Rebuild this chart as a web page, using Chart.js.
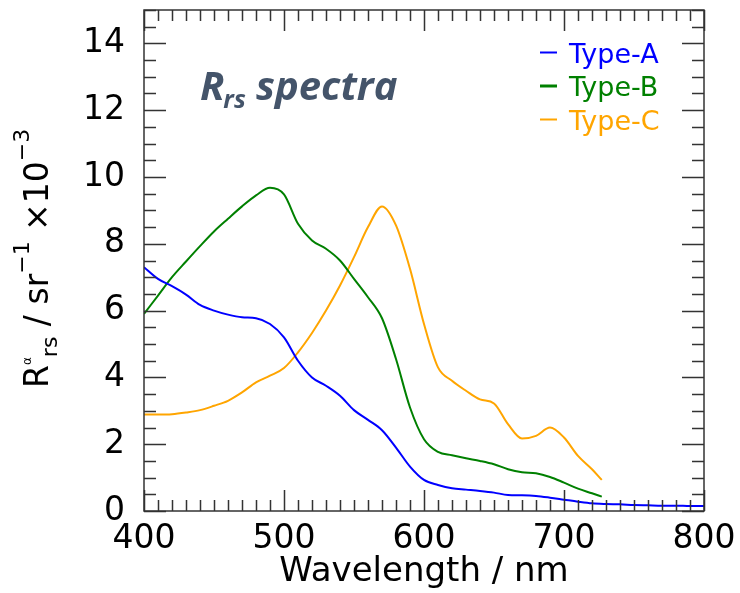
<!DOCTYPE html>
<html>
<head>
<meta charset="utf-8">
<script src="https://cdn.jsdelivr.net/npm/chart.js@4"></script>
<style>
html, body { margin: 0; padding: 0; background: #fff; }
#wrap { width: 740px; height: 593px; position: relative; }
</style>
</head>
<body>
<div id="wrap"><canvas id="spectra"></canvas></div>
<script>
// wavelength grids (nm)
var wavelengths = [400, 410, 420, 430, 440, 450, 460, 470, 480, 490,
                   500, 510, 520, 530, 540, 550, 560, 570, 580, 590,
                   600, 610, 620, 630, 640, 650, 660, 670, 680, 690,
                   700, 710, 720, 730, 740, 750, 760, 770, 780, 790, 800];
var wavelengthsBC = [400, 410, 420, 430, 440, 450, 460, 470, 480, 490,
                     500, 510, 520, 530, 540, 550, 560, 570, 580, 590,
                     600, 610, 620, 630, 640, 650, 660, 670, 680, 690,
                     700, 710, 720, 727];

// Rrs x 10^-3 sr^-1
var typeA = [7.30, 6.95, 6.73, 6.48, 6.17, 6.00, 5.88, 5.80, 5.77, 5.60,
             5.20, 4.50, 4.00, 3.75, 3.45, 3.02, 2.73, 2.42, 1.90, 1.33,
             0.93, 0.78, 0.68, 0.64, 0.60, 0.55, 0.48, 0.47, 0.45, 0.40,
             0.34, 0.28, 0.23, 0.21, 0.20, 0.18, 0.17, 0.16, 0.16, 0.15, 0.15];
var typeB = [5.90, 6.45, 7.00, 7.47, 7.93, 8.37, 8.75, 9.12, 9.45, 9.68,
             9.48, 8.60, 8.10, 7.85, 7.50, 6.95, 6.40, 5.77, 4.55, 3.10,
             2.15, 1.77, 1.67, 1.58, 1.50, 1.40, 1.25, 1.16, 1.13, 1.02,
             0.85, 0.67, 0.53, 0.43];
var typeC = [2.89, 2.89, 2.90, 2.95, 3.02, 3.15, 3.30, 3.55, 3.85, 4.05,
             4.28, 4.75, 5.33, 6.00, 6.75, 7.60, 8.50, 9.12, 8.55, 7.25,
             5.60, 4.30, 3.90, 3.60, 3.34, 3.22, 2.60, 2.17, 2.25, 2.50,
             2.20, 1.65, 1.25, 0.93];

var seriesNames = ['Type-A', 'Type-B', 'Type-C'];
var seriesColors = ['#0000ff', '#008000', '#ffa500'];

function pairs(xs, ys) {
    return ys.map(function(v, i) { return { x: xs[i], y: v }; });
}

var FONT = "'DejaVu Sans', sans-serif";

// box round the plot with inward ticks on all four sides
var frameTicks = {
    id: 'frameTicks',
    afterDraw: function(chart) {
        var ctx = chart.ctx, ca = chart.chartArea;
        var xs = chart.scales.x, ys = chart.scales.y;
        ctx.save();
        ctx.strokeStyle = '#333';
        ctx.lineWidth = 1.5;
        ctx.beginPath();
        for (var w = xs.min; w <= xs.max; w += 10) {
            var px = Math.round(xs.getPixelForValue(w)) + 0.5;
            var len = (w % 100 === 0) ? 21 : 11;
            ctx.moveTo(px, ca.bottom); ctx.lineTo(px, ca.bottom - len);
            ctx.moveTo(px, ca.top); ctx.lineTo(px, ca.top + len);
        }
        for (var v = ys.min; v <= ys.max; v += 0.5) {
            var py = Math.round(ys.getPixelForValue(v)) + 0.5;
            var l2 = (v % 2 === 0) ? 22 : 12;
            ctx.moveTo(ca.left, py); ctx.lineTo(ca.left + l2, py);
            ctx.moveTo(ca.right, py); ctx.lineTo(ca.right - l2, py);
        }
        ctx.stroke();
        ctx.strokeRect(ca.left, ca.top, ca.right - ca.left, ca.bottom - ca.top);
        ctx.restore();
    }
};

// y title with sub/superscripts, rotated
var yTitle = {
    id: 'yTitle',
    afterDraw: function(chart) {
        var ctx = chart.ctx;
        var parts = [
            { t: 'R', size: 33, dy: 0 },
            { t: '\u03b1', size: 12, dy: -17 },
            { t: 'rs', size: 22, dy: 9 },
            { t: ' / sr', size: 33, dy: 0 },
            { t: '\u22121', size: 22, dy: -19 },
            { t: ' \u00d710', size: 33, dy: 0 },
            { t: '\u22123', size: 22, dy: -19 }
        ];
        ctx.save();
        ctx.translate(48, 388);
        ctx.rotate(-Math.PI / 2);
        ctx.fillStyle = '#000';
        ctx.textBaseline = 'alphabetic';
        var x = 0;
        parts.forEach(function(p) {
            ctx.font = p.size + 'px ' + FONT;
            ctx.fillText(p.t, x, p.dy);
            x += ctx.measureText(p.t).width;
        });
        ctx.restore();
    }
};

// "Rrs spectra" label and the legend inside the plot
var annotations = {
    id: 'annotations',
    afterDraw: function(chart) {
        var ctx = chart.ctx;
        ctx.save();
        ctx.fillStyle = '#44546a';
        ctx.textBaseline = 'alphabetic';
        ctx.font = "italic bold 40px 'Open Sans', sans-serif";
        ctx.fillText('R', 200, 100);
        var x = 200 + ctx.measureText('R').width;
        ctx.font = "italic bold 25px 'Open Sans', sans-serif";
        ctx.fillText('rs', x - 1, 108);
        x += ctx.measureText('rs').width - 1;
        ctx.font = "italic bold 40px 'Open Sans', sans-serif";
        ctx.fillText(' spectra', x, 100);

        ctx.font = '27px ' + FONT;
        seriesNames.forEach(function(name, i) {
            var base = 62.5 + i * 33.5;
            ctx.strokeStyle = seriesColors[i];
            ctx.lineWidth = i === 1 ? 3 : 2;
            ctx.beginPath();
            ctx.moveTo(540, base - 10);
            ctx.lineTo(557, base - 10);
            ctx.stroke();
            ctx.fillStyle = seriesColors[i];
            ctx.fillText(name, 569, base);
        });
        ctx.restore();
    }
};

var ctx = document.getElementById('spectra');

var chart = new Chart(ctx, {
    type: 'line',
    data: {
        datasets: [
            { label: seriesNames[0], data: pairs(wavelengths, typeA), borderColor: seriesColors[0] },
            { label: seriesNames[1], data: pairs(wavelengthsBC, typeB), borderColor: seriesColors[1] },
            { label: seriesNames[2], data: pairs(wavelengthsBC, typeC), borderColor: seriesColors[2] }
        ]
    },
    options: {
        responsive: true,
        maintainAspectRatio: false,
        animation: false,
        layout: { padding: { left: 0, top: 10, right: 36, bottom: 0 } },
        elements: {
            line: { borderWidth: 2, fill: false, cubicInterpolationMode: 'monotone' },
            point: { radius: 0 }
        },
        plugins: {
            legend: { display: false },
            tooltip: { enabled: false }
        },
        scales: {
            x: {
                type: 'linear',
                min: 400,
                max: 800,
                ticks: { stepSize: 100, color: '#000', font: { family: FONT, size: 33 }, padding: 9, maxRotation: 0 },
                grid: { display: false, drawTicks: false },
                border: { display: false },
                title: { display: true, text: 'Wavelength / nm', color: '#000',
                         font: { family: FONT, size: 34 }, padding: { top: 0, bottom: 0 } },
                afterFit: function(s) { s.height = 82; s.paddingLeft = 0; s.paddingRight = 0; }
            },
            y: {
                min: 0,
                max: 15,
                ticks: { stepSize: 2, includeBounds: false, color: '#000', font: { family: FONT, size: 33 }, padding: 19 },
                grid: { display: false, drawTicks: false },
                border: { display: false },
                afterFit: function(s) { s.width = 144; s.paddingTop = 0; s.paddingBottom = 0; }
            }
        }
    },
    plugins: [frameTicks, yTitle, annotations]
});
</script>
</body>
</html>
